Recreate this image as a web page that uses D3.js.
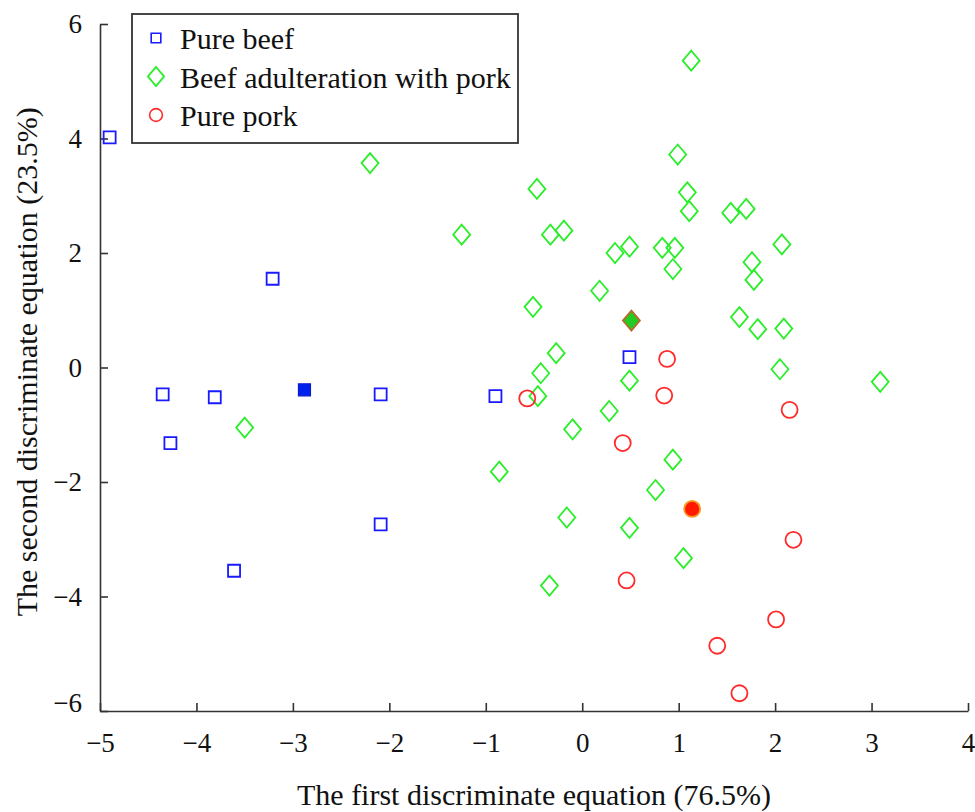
<!DOCTYPE html>
<html>
<head>
<meta charset="utf-8">
<script src="https://cdn.jsdelivr.net/npm/d3@7"></script>
<style>
  body { margin: 0; background: #fff; }
  text { font-family: "Liberation Serif", "Times New Roman", serif; fill: #111; }
</style>
</head>
<body>
<div id="scatter"></div>
<script>
// Data
var beefX = [-4.90, -4.35, -3.81, -3.21, -4.27, -3.61, -2.09, -0.90, 0.49, -2.09];
var beefY = [4.02, -0.47, -0.52, 1.55, -1.32, -3.55, -0.47, -0.50, 0.18, -2.74];
var beefCenter = [-2.88, -0.39];

var mixX = [-3.50, -2.20, -0.47, -1.25, -0.33, -0.19, 0.34, 0.49, 0.18, -0.51,
            -0.27, -0.43, -0.46, 0.49, 0.28, -0.10, -0.86, -0.16, 0.49, -0.34,
            1.13, 0.99, 1.09, 1.11, 1.54, 1.70, 0.83, 0.96, 0.94, 2.07,
            1.76, 1.78, 1.63, 1.82, 2.09, 2.05, 3.09, 0.94, 0.76, 1.05];
var mixY = [-1.05, 3.57, 3.12, 2.32, 2.32, 2.39, 2.00, 2.11, 1.34, 1.06,
            0.25, -0.10, -0.50, -0.23, -0.76, -1.08, -1.82, -2.62, -2.80, -3.81,
            5.36, 3.72, 3.06, 2.73, 2.70, 2.77, 2.09, 2.09, 1.72, 2.15,
            1.84, 1.53, 0.88, 0.67, 0.68, -0.03, -0.25, -1.61, -2.14, -3.33];
var mixCenter = [0.51, 0.82];

var porkX = [-0.57, 0.88, 0.85, 2.15, 0.42, 0.46, 2.19, 2.01, 1.40, 1.63];
var porkY = [-0.54, 0.15, -0.49, -0.74, -1.32, -3.72, -3.01, -4.40, -4.86, -5.69];
var porkCenter = [1.14, -2.47];

var xTicks = [-5, -4, -3, -2, -1, 0, 1, 2, 3, 4];
var yTicks = [-6, -4, -2, 0, 2, 4, 6];
var groupNames = ["Pure beef", "Beef adulteration with pork", "Pure pork"];

// Chart setup
var svgWidth = 975;
var svgHeight = 812;
var margin = { top: 24, right: 7, bottom: 101, left: 100 };
var width = svgWidth - margin.left - margin.right;
var height = svgHeight - margin.top - margin.bottom;

var svg = d3.select("#scatter")
  .append("svg")
  .attr("width", svgWidth)
  .attr("height", svgHeight);

var chartGroup = svg.append("g")
  .attr("transform", `translate(${margin.left}, ${margin.top})`);

var xScale = d3.scaleLinear().domain([-5, 4]).range([0, width]);
var yScale = d3.scaleLinear().domain([-6, 6]).range([height, 0]);

var blue = "#1a1aff", green = "#2aee2a", red = "#ff2a2a";

// Axes with inward ticks
var xAxis = d3.axisBottom(xScale).tickValues(xTicks).tickSizeInner(-8).tickSizeOuter(0).tickPadding(22);
var yAxis = d3.axisLeft(yScale).tickValues(yTicks).tickSizeInner(-8).tickSizeOuter(0).tickPadding(18);

var gx = chartGroup.append("g")
  .attr("transform", `translate(0,${height})`)
  .call(xAxis);
var gy = chartGroup.append("g").call(yAxis);

[gx, gy].forEach(function (g) {
  g.attr("font-family", null);
  g.select(".domain").attr("stroke", "#333").attr("stroke-width", 1.6);
  g.selectAll(".tick line").attr("stroke", "#333").attr("stroke-width", 1.6);
  g.selectAll(".tick text")
    .attr("font-size", "27px")
    .attr("fill", "#111");
});
gx.selectAll(".tick text").attr("dy", "0.71em");
// bottom y label sits a little above its tick, as in the original
gy.selectAll(".tick text").filter(function (d) { return d === -6; }).attr("dy", "0.0em");

// Axis titles
chartGroup.append("text")
  .attr("x", width / 2)
  .attr("y", height + 94)
  .attr("text-anchor", "middle")
  .attr("font-size", "30px")
  .text("The first discriminate equation (76.5%)");

svg.append("text")
  .attr("transform", `translate(37, ${margin.top + yScale(0.1)}) rotate(-90)`)
  .attr("text-anchor", "middle")
  .attr("font-size", "30px")
  .text("The second discriminate equation (23.5%)");

// Marker helpers
var square = d3.symbol().type(d3.symbolSquare).size(144);
var circle = d3.symbol().type(d3.symbolCircle).size(201);
function diamondPath() {
  return "M0,-10L8.5,0L0,10L-8.5,0Z";
}

// Pure beef
chartGroup.selectAll(".beef")
  .data(beefX.map(function (x, i) { return [x, beefY[i]]; }))
  .enter()
  .append("path")
  .attr("class", "beef")
  .attr("d", square)
  .attr("transform", function (d) { return `translate(${xScale(d[0])},${yScale(d[1])})`; })
  .attr("fill", "none")
  .attr("stroke", blue)
  .attr("stroke-width", 1.8);

chartGroup.append("path")
  .attr("d", square)
  .attr("transform", `translate(${xScale(beefCenter[0])},${yScale(beefCenter[1])})`)
  .attr("fill", "#0022ee")
  .attr("stroke", "#0a1acc")
  .attr("stroke-width", 1.2);

// Beef adulteration with pork
chartGroup.selectAll(".mix")
  .data(mixX.map(function (x, i) { return [x, mixY[i]]; }))
  .enter()
  .append("path")
  .attr("class", "mix")
  .attr("d", diamondPath())
  .attr("transform", function (d) { return `translate(${xScale(d[0])},${yScale(d[1])})`; })
  .attr("fill", "none")
  .attr("stroke", green)
  .attr("stroke-width", 1.8);

chartGroup.append("path")
  .attr("d", diamondPath())
  .attr("transform", `translate(${xScale(mixCenter[0])},${yScale(mixCenter[1])})`)
  .attr("fill", "#22cc22")
  .attr("stroke", "#b86a30")
  .attr("stroke-width", 1.8);

// Pure pork
chartGroup.selectAll(".pork")
  .data(porkX.map(function (x, i) { return [x, porkY[i]]; }))
  .enter()
  .append("path")
  .attr("class", "pork")
  .attr("d", circle)
  .attr("transform", function (d) { return `translate(${xScale(d[0])},${yScale(d[1])})`; })
  .attr("fill", "none")
  .attr("stroke", red)
  .attr("stroke-width", 1.8);

chartGroup.append("path")
  .attr("d", circle)
  .attr("transform", `translate(${xScale(porkCenter[0])},${yScale(porkCenter[1])})`)
  .attr("fill", "#ff1a00")
  .attr("stroke", "#f59a20")
  .attr("stroke-width", 1.8);

// Legend
var legend = svg.append("g").attr("transform", "translate(132, 14)");
legend.append("rect")
  .attr("width", 386)
  .attr("height", 129)
  .attr("fill", "#fff")
  .attr("stroke", "#333")
  .attr("stroke-width", 1.8);

var legendMarks = [square, diamondPath(), circle];
var legendColors = [blue, green, red];
var legendSizes = [0.8, 0.95, 0.8];
groupNames.forEach(function (name, i) {
  var row = legend.append("g").attr("transform", `translate(0, ${24 + i * 38.5})`);
  row.append("path")
    .attr("d", legendMarks[i])
    .attr("transform", `translate(24,0) scale(${legendSizes[i]})`)
    .attr("fill", "none")
    .attr("stroke", legendColors[i])
    .attr("stroke-width", 2);
  row.append("text")
    .attr("x", 48)
    .attr("y", 11)
    .attr("font-size", "30px")
    .text(name);
});
</script>
</body>
</html>
